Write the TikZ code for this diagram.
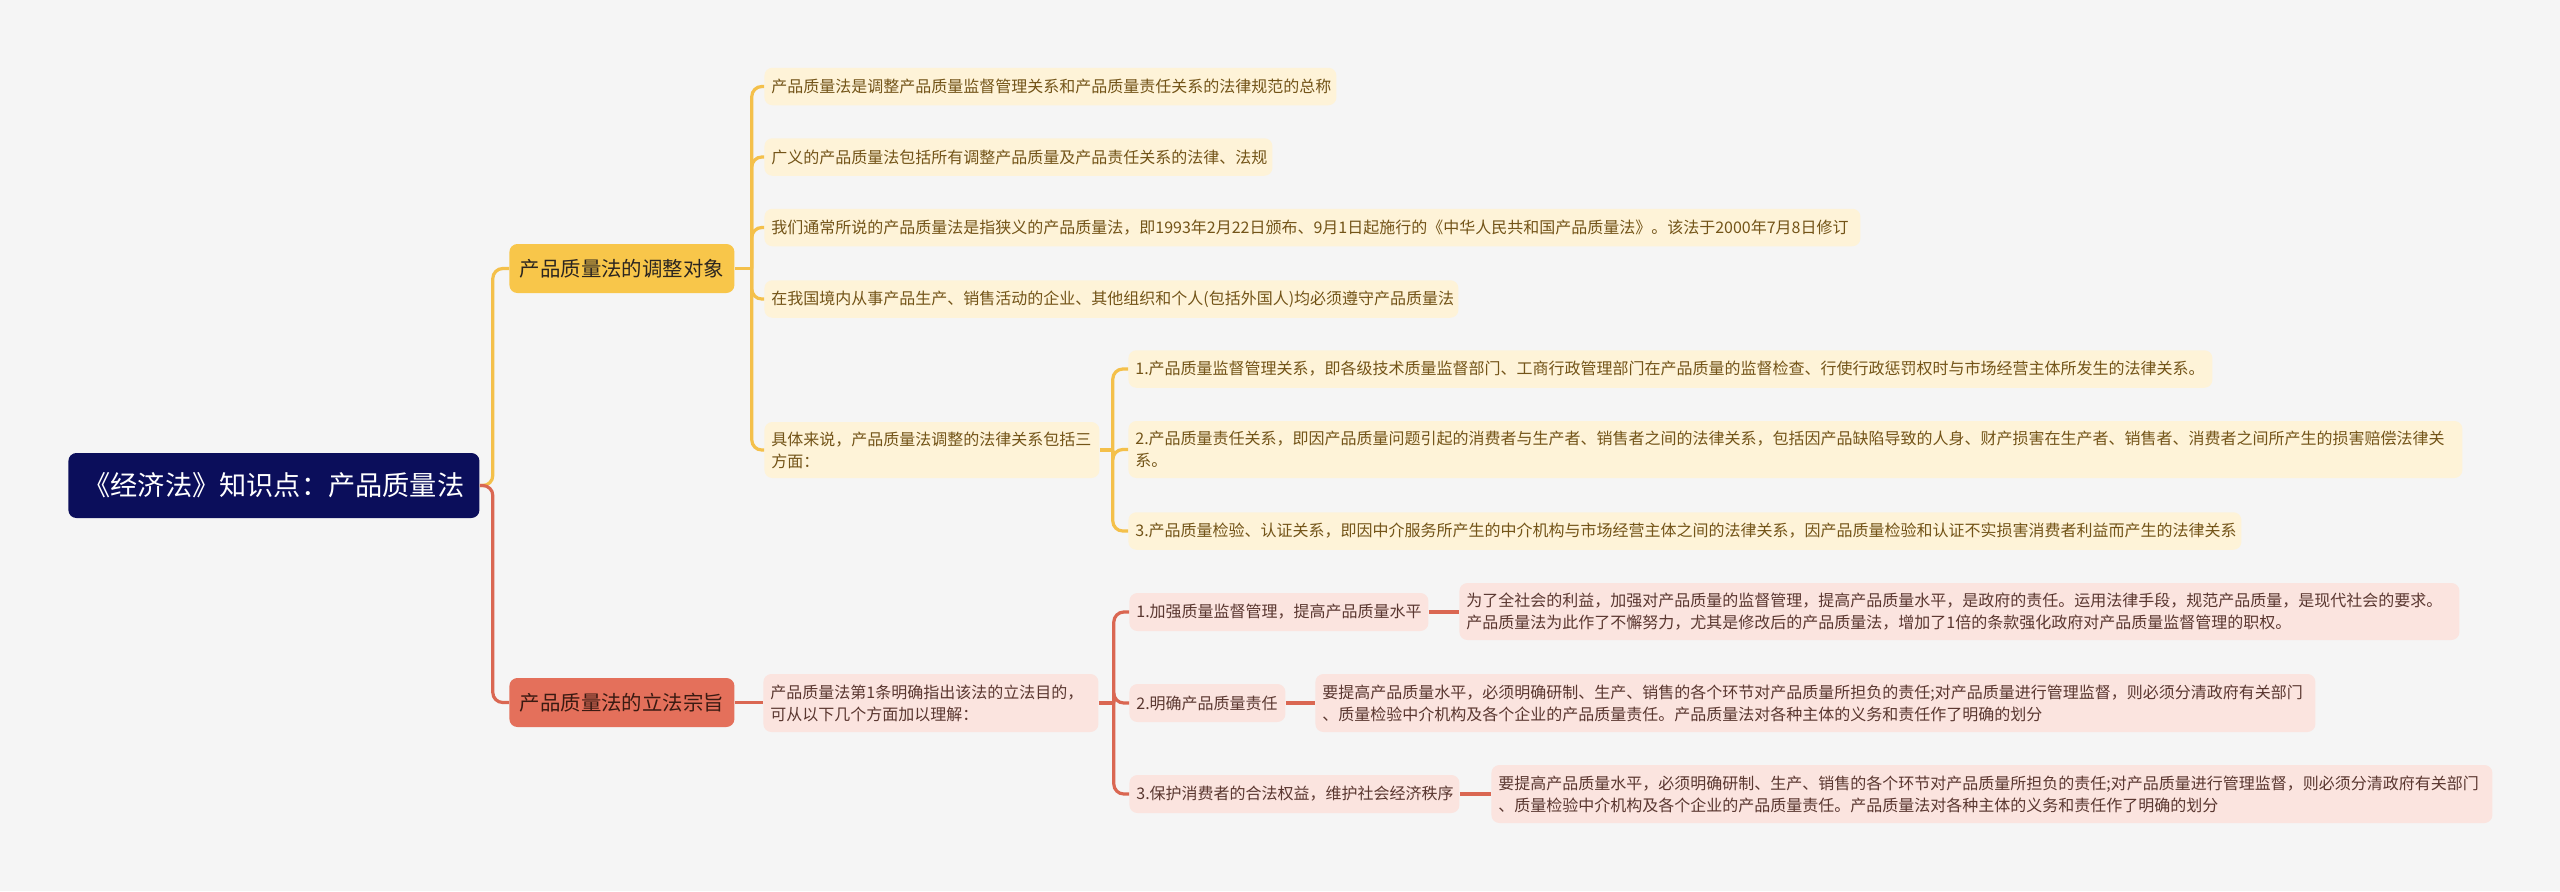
\documentclass[tikz,border=0pt]{standalone}
\usepackage{fontspec}
\setmainfont{Noto Sans CJK SC}
\definecolor{bgc}{HTML}{F5F5F5}
\definecolor{navy}{HTML}{0B0E5B}
\definecolor{ymain}{HTML}{F8C64A}
\definecolor{yline}{HTML}{F4C04A}
\definecolor{ylight}{HTML}{FEF3D8}
\definecolor{ytext}{HTML}{735418}
\definecolor{rmain}{HTML}{E4705B}
\definecolor{rline}{HTML}{DA6752}
\definecolor{rlight}{HTML}{FBE4DF}
\definecolor{rtext}{HTML}{5A3730}
\definecolor{ladark}{HTML}{2B2520}
\definecolor{lbdark}{HTML}{3A1A12}
\newcommand\leaffont{\fontsize{8pt}{11pt}\selectfont}
\newcommand\lonefont{\fontsize{10.2pt}{12pt}\selectfont}
\newcommand\rootfont{\fontsize{13.6pt}{16pt}\selectfont}
\tikzset{
  rootbox/.style={fill=navy, text=white, rounded corners=4pt, inner xsep=6pt, inner ysep=0pt, minimum height=32.5pt, font=\rootfont, anchor=west},
  lonea/.style={fill=ymain, text=ladark, rounded corners=4pt, inner xsep=5pt, inner ysep=0pt, minimum height=24.5pt, font=\lonefont, anchor=west},
  loneb/.style={fill=rmain, text=lbdark, rounded corners=4pt, inner xsep=5pt, inner ysep=0pt, minimum height=24.5pt, font=\lonefont, anchor=west},
  leafY/.style={fill=ylight, text=ytext, rounded corners=4pt, inner xsep=3.5pt, inner ysep=0pt, minimum height=18.75pt, font=\leaffont, align=left, anchor=west},
  leafR/.style={fill=rlight, text=rtext, rounded corners=4pt, inner xsep=3.5pt, inner ysep=0pt, minimum height=18.75pt, font=\leaffont, align=left, anchor=west},
  lineY/.style={draw=yline, line width=1.6pt, rounded corners=5pt},
  lineR/.style={draw=rline, line width=1.6pt, rounded corners=5pt},
}
\begin{document}
\begin{tikzpicture}[x=0.5pt,y=-0.5pt]
\fill[bgc] (0,0) rectangle (2560,891);
\useasboundingbox (0,0) rectangle (2560,891);

% nodes
\node[rootbox, minimum width=205.5pt] (root) at (68,485.5) {《经济法》知识点：产品质量法};
\node[lonea, minimum width=112.5pt] (L1a) at (509,268.5) {产品质量法的调整对象};
\node[loneb, minimum width=112.5pt] (L1b) at (509,702.5) {产品质量法的立法宗旨};

\node[leafY, text width=279pt] (y1) at (764,86.5) {产品质量法是调整产品质量监督管理关系和产品质量责任关系的法律规范的总称};
\node[leafY, text width=247pt] (y2) at (764,157) {广义的产品质量法包括所有调整产品质量及产品责任关系的法律、法规};
\node[leafY, text width=541pt] (y3) at (764,227.5) {我们通常所说的产品质量法是指狭义的产品质量法，即1993年2月22日颁布、9月1日起施行的《中华人民共和国产品质量法》。该法于2000年7月8日修订};
\node[leafY, text width=340pt] (y4) at (764,299) {在我国境内从事产品生产、销售活动的企业、其他组织和个人(包括外国人)均必须遵守产品质量法};
\node[leafY, text width=160.5pt, minimum height=28pt] (y5) at (764,450) {具体来说，产品质量法调整的法律关系包括三\\方面：};
\node[leafY, text width=535pt] (y5a) at (1128,369) {1.产品质量监督管理关系，即各级技术质量监督部门、工商行政管理部门在产品质量的监督检查、行使行政惩罚权时与市场经营主体所发生的法律关系。};
\node[leafY, text width=660pt, minimum height=28.5pt] (y5b) at (1128,449.5) {2.产品质量责任关系，即因产品质量问题引起的消费者与生产者、销售者之间的法律关系，包括因产品缺陷导致的人身、财产损害在生产者、销售者、消费者之间所产生的损害赔偿法律关\\系。};
\node[leafY, text width=549.5pt] (y5c) at (1128,531) {3.产品质量检验、认证关系，即因中介服务所产生的中介机构与市场经营主体之间的法律关系，因产品质量检验和认证不实损害消费者利益而产生的法律关系};

\node[leafR, text width=160.5pt, minimum height=29pt] (r1) at (763,703) {产品质量法第1条明确指出该法的立法目的，\\可从以下几个方面加以理解：};
\node[leafR, text width=142.5pt, minimum height=19pt] (ra) at (1129,612) {1.加强质量监督管理，提高产品质量水平};
\node[leafR, text width=71pt, minimum height=19pt] (rb) at (1129,703) {2.明确产品质量责任};
\node[leafR, text width=158pt, minimum height=19pt] (rc) at (1129,794) {3.保护消费者的合法权益，维护社会经济秩序};
\node[leafR, text width=493pt, minimum height=28.5pt] (rad) at (1459,611.5) {为了全社会的利益，加强对产品质量的监督管理，提高产品质量水平，是政府的责任。运用法律手段，规范产品质量，是现代社会的要求。\\产品质量法为此作了不懈努力，尤其是修改后的产品质量法，增加了1倍的条款强化政府对产品质量监督管理的职权。};
\node[leafR, text width=493pt, minimum height=29pt] (rbd) at (1315,703) {要提高产品质量水平，必须明确研制、生产、销售的各个环节对产品质量所担负的责任;对产品质量进行管理监督，则必须分清政府有关部门\\、质量检验中介机构及各个企业的产品质量责任。产品质量法对各种主体的义务和责任作了明确的划分};
\node[leafR, text width=493.5pt, minimum height=29pt] (rcd) at (1491,794) {要提高产品质量水平，必须明确研制、生产、销售的各个环节对产品质量所担负的责任;对产品质量进行管理监督，则必须分清政府有关部门\\、质量检验中介机构及各个企业的产品质量责任。产品质量法对各种主体的义务和责任作了明确的划分};

% root connectors
\draw[lineY] (root.east) -- ++(13,0) |- (L1a.west);
\draw[lineR] (root.east) -- ++(13,0) |- (L1b.west);

% yellow subtree
\draw[lineY] (L1a.east) -- ++(17,0) coordinate (ja);
\draw[lineY] (ja) |- (y1.west);
\draw[lineY] (ja) |- (y2.west);
\draw[lineY] (ja) |- (y3.west);
\draw[lineY] (ja) |- (y4.west);
\draw[lineY] (ja) |- (y5.west);
\draw[lineY] (y5.east) -- ++(13,0) coordinate (jb);
\draw[lineY] (jb) |- (y5a.west);
\draw[lineY] (jb) |- (y5b.west);
\draw[lineY] (jb) |- (y5c.west);

% red subtree
\draw[lineR] (L1b.east) -- (L1b.east -| r1.west);
\draw[lineR] (r1.east) -- ++(15,0) coordinate (jc);
\draw[lineR] (jc) |- (ra.west);
\draw[lineR] (jc) |- (rb.west);
\draw[lineR] (jc) |- (rc.west);
\draw[lineR] (ra.east) -- (ra.east -| rad.west);
\draw[lineR] (rb.east) -- (rb.east -| rbd.west);
\draw[lineR] (rc.east) -- (rc.east -| rcd.west);
\end{tikzpicture}
\end{document}
